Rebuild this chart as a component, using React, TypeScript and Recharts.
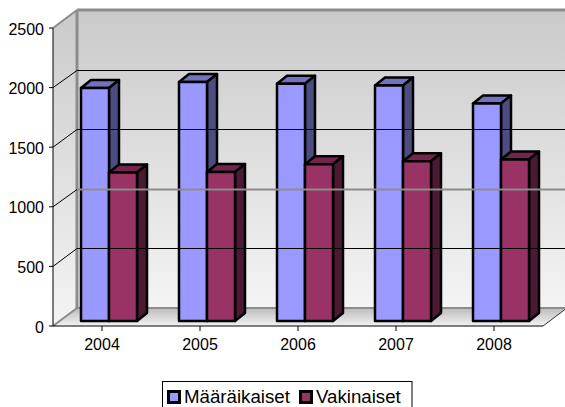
import { BarChart, Bar, XAxis, YAxis, Legend, ReferenceLine, ReferenceArea } from "recharts";

const years = ["2004", "2005", "2006", "2007", "2008"];
const maaraikaiset = [1955, 2005, 1990, 1975, 1825];
const vakinaiset = [1245, 1250, 1315, 1340, 1355];
const yTicks = [0, 500, 1000, 1500, 2000, 2500];
const gridValues = [500, 1000, 1500, 2000];

const data = years.map((year, i) => ({
  year,
  Määräikaiset: maaraikaiset[i],
  Vakinaiset: vakinaiset[i],
}));

const DX = 24;
const DY = -18;
const FONT = "Liberation Sans, Arial, sans-serif";

// one bar with its top and side faces, pushed a little into the floor
function Bar3D(props: any) {
  const { x, y, width, height, fill, topFill, sideFill } = props;
  const ox = 7;
  const oy = -5;
  const d = 10;
  const h = 8;
  const l = x + ox;
  const r = l + width;
  const t = y + oy;
  const b = t + height;
  return (
    <g stroke="#000" strokeWidth={2.5} strokeLinejoin="round">
      <polygon points={`${l},${t} ${l + d},${t - h} ${r + d},${t - h} ${r},${t}`} fill={topFill} />
      <polygon points={`${r},${t} ${r + d},${t - h} ${r + d},${b - h} ${r},${b}`} fill={sideFill} />
      <rect x={l} y={t} width={width} height={height} fill={fill} />
    </g>
  );
}

// walls and floor, hung on the y axis reference area
function Room(props: any) {
  const { x, y, width, height } = props;
  const r = x + width;
  const b = y + height;
  return (
    <g>
      <defs>
        <linearGradient id="wall" x1="0" y1="0" x2="0" y2="1">
          <stop offset="0%" stopColor="#cacaca" />
          <stop offset="100%" stopColor="#f4f4f4" />
        </linearGradient>
        <linearGradient id="floor" x1="0" y1="0" x2="0" y2="1">
          <stop offset="0%" stopColor="#bcbcbc" />
          <stop offset="100%" stopColor="#f2f2f2" />
        </linearGradient>
      </defs>
      <polygon points={`${x},${y} ${x + DX},${y + DY} ${x + DX},${b + DY} ${x},${b}`} fill="url(#wall)" />
      <rect x={x + DX} y={y + DY} width={width} height={height} fill="url(#wall)" />
      <polygon points={`${x},${b} ${x + DX},${b + DY} ${r + DX},${b + DY} ${r},${b}`} fill="url(#floor)" />
      <line x1={x} y1={y} x2={x + DX} y2={y + DY} stroke="#8c8c8c" strokeWidth={2} />
      <line x1={x + DX} y1={y + DY} x2={r + DX} y2={y + DY} stroke="#8c8c8c" strokeWidth={3} />
      <line x1={x + DX} y1={y + DY} x2={x + DX} y2={b + DY} stroke="#8c8c8c" strokeWidth={3} />
      <line x1={x} y1={b} x2={x + DX} y2={b + DY} stroke="#8c8c8c" strokeWidth={2} />
      <line x1={x + DX} y1={b + DY} x2={r + DX} y2={b + DY} stroke="#8c8c8c" strokeWidth={2} />
      <line x1={r} y1={b} x2={r + DX} y2={b + DY} stroke="#333" strokeWidth={1} />
    </g>
  );
}

function GridLine(props: any) {
  const { x1, x2, y, color, w } = props;
  // snap the back wall line to a pixel so it stays crisp
  const back = Math.round(y + DY) + 0.5;
  return (
    <g fill="none">
      <line x1={x1} y1={y} x2={x1 + DX} y2={back} stroke="#000" strokeWidth={1} />
      <line x1={x1 + DX} y1={back} x2={x2 + DX} y2={back} stroke={color} strokeWidth={w} />
    </g>
  );
}

function LegendBox() {
  const items = [
    { name: "Määräikaiset", color: "#9999ff", gap: 9 },
    { name: "Vakinaiset", color: "#993366", gap: 0 },
  ];
  return (
    <div
      style={{
        display: "flex",
        alignItems: "flex-start",
        border: "1px solid #000",
        borderRight: "2px solid #808080",
        width: 251,
        height: 30,
        paddingLeft: 4,
        paddingTop: 4,
        fontFamily: FONT,
        fontSize: 18.7,
        lineHeight: "21px",
        background: "#fff",
        boxSizing: "border-box",
      }}
    >
      {items.map((it) => (
        <span key={it.name} style={{ display: "inline-flex", alignItems: "center", marginRight: it.gap }}>
          <span
            style={{
              width: 14,
              height: 14,
              boxSizing: "border-box",
              background: it.color,
              border: "3px solid #000",
              marginRight: 3,
              display: "inline-block",
            }}
          />
          {it.name}
        </span>
      ))}
    </div>
  );
}

export default function App() {
  return (
    <div style={{ position: "absolute", left: 0, top: 0, width: 565, height: 407, overflow: "hidden", background: "#fff" }}>
      <BarChart
        width={565}
        height={407}
        data={data}
        margin={{ top: 28, right: 22, bottom: 0, left: 0 }}
        barCategoryGap={21}
        barGap={0}
      >
        <XAxis
          dataKey="year"
          height={51}
          interval={0}
          tickLine={{ stroke: "#000" }}
          tickSize={5}
          axisLine={{ stroke: "#000", strokeWidth: 1 }}
          tick={{ fontFamily: FONT, fontSize: 16, fill: "#000", dy: 6 }}
        />
        <YAxis
          width={53}
          domain={[0, 2500]}
          ticks={yTicks}
          interval={0}
          tickLine={{ stroke: "#000" }}
          tickSize={4}
          tickMargin={5}
          axisLine={{ stroke: "#000", strokeWidth: 1 }}
          tick={{ fontFamily: FONT, fontSize: 16, fill: "#000", dy: 1 }}
        />
        <ReferenceArea y1={0} y2={2500} ifOverflow="visible" shape={<Room />} />
        {gridValues.map((v) => (
          <ReferenceLine
            key={v}
            y={v}
            shape={(p: any) => (
              <GridLine x1={p.x1} x2={p.x2} y={p.y1} color={v === 1000 ? "#8c8c8c" : "#000"} w={v === 1000 ? 2 : 1} />
            )}
          />
        ))}
        <Bar
          dataKey="Määräikaiset"
          fill="#9999ff"
          isAnimationActive={false}
          shape={(p: any) => <Bar3D {...p} topFill="#7272bf" sideFill="#4c4c80" />}
        />
        <Bar
          dataKey="Vakinaiset"
          fill="#993366"
          isAnimationActive={false}
          shape={(p: any) => <Bar3D {...p} topFill="#72264c" sideFill="#4c1933" />}
        />
        <Legend
          content={<LegendBox />}
          wrapperStyle={{ position: "absolute", left: 162, top: 381, width: "auto", bottom: "auto" }}
        />
      </BarChart>
    </div>
  );
}
